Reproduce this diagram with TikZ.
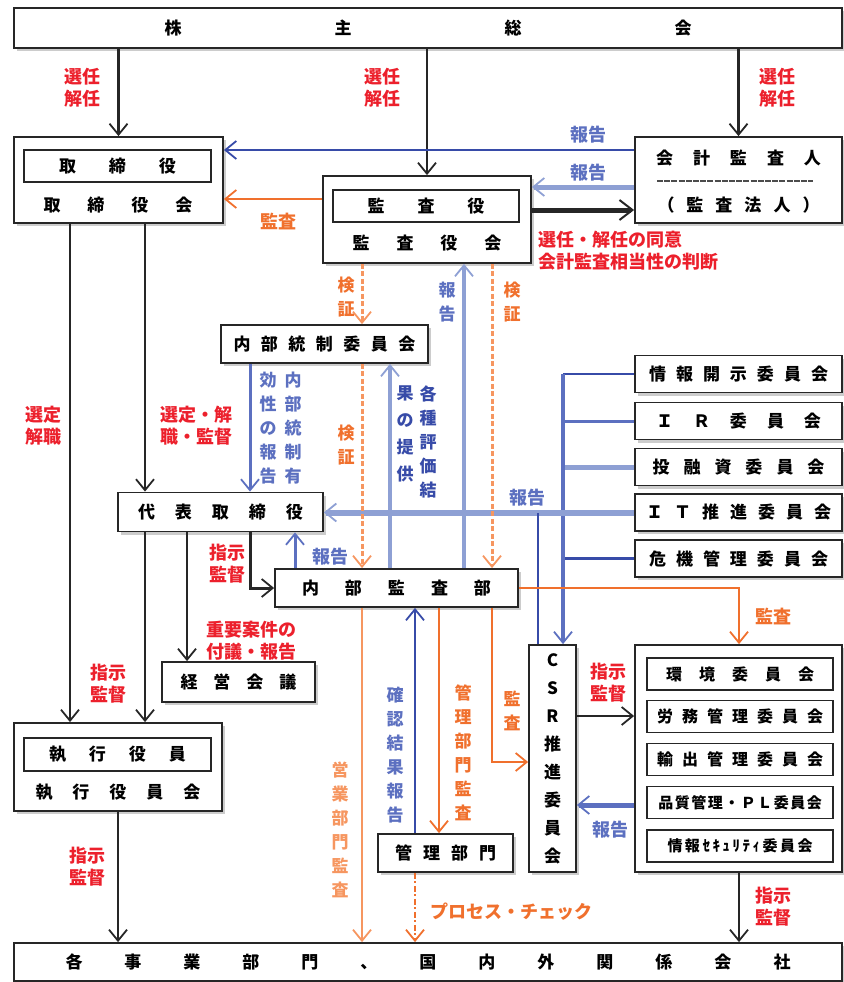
\documentclass[tikz,border=0pt]{standalone}
\usepackage{fontspec}
\setmainfont{Noto Sans CJK JP}
\usetikzlibrary{arrows.meta,shadows}
\definecolor{jred}{RGB}{236,32,44}
\definecolor{jorange}{RGB}{240,112,45}
\definecolor{jorangeL}{RGB}{246,150,96}
\definecolor{jblue}{RGB}{55,75,168}
\definecolor{jblueM}{RGB}{92,112,192}
\definecolor{jblueL}{RGB}{142,160,212}
\makeatletter
\newcommand\spaced[2]{\def\spc@gap{\hspace{#1pt}}\spc@go#2\@nil}
\def\spc@go#1#2\@nil{#1\ifx\relax#2\relax\else\spc@gap\spc@go#2\@nil\fi}
\makeatother
\begin{document}
\begin{tikzpicture}[x=1pt,y=-1pt,
  bx/.style={draw=black!85,line width=1.8pt,fill=white,inner sep=0pt,
    drop shadow={shadow xshift=3pt,shadow yshift=-3pt,fill=black!20,opacity=1},
    font=\bfseries\fontsize{17}{20}\selectfont},
  ibx/.style={draw=black!85,line width=1.7pt,fill=white,inner sep=0pt,
    font=\bfseries\fontsize{17}{20}\selectfont},
  txt/.style={inner sep=0pt,font=\bfseries\fontsize{17}{20}\selectfont},
  lab/.style={inner sep=0pt,align=center,font=\bfseries\fontsize{18}{22}\selectfont},
  vlab/.style={inner sep=0pt,align=center,font=\bfseries\fontsize{17}{24}\selectfont},
  ar/.style={-{Straight Barb[length=11pt,width=18pt,line width=1.8pt]}},
  blk/.style={draw=black!85,line width=2.2pt},
  blu/.style={draw=jblue,line width=2.8pt},
  bluM/.style={draw=jblueM,line width=3pt},
  bluL/.style={draw=jblueL,line width=3.4pt},
  org/.style={draw=jorange,line width=2.4pt},
  orgL/.style={draw=jorangeL,line width=2.8pt},
  orgD/.style={draw=jorangeL,line width=3pt,dash pattern=on 5pt off 2.5pt},
  ]
\useasboundingbox (0,0) rectangle (843,982);

% boxes
\node[bx,minimum width=828pt,minimum height=40pt] (kabu) at (428,28) {\spaced{153}{株主総会}};

\node[bx,minimum width=209pt,minimum height=86pt] (tb) at (118.5,180) {};
\node[ibx,minimum width=187pt,minimum height=32pt] (tbin) at (117.5,166) {\spaced{33}{取締役}};
\node[txt] (tbtxt) at (118,205) {\spaced{27}{取締役会}};

\node[bx,minimum width=208pt,minimum height=87pt] (ka) at (427,219.5) {};
\node[ibx,minimum width=186pt,minimum height=32pt] (kain) at (426,206) {\spaced{33}{監査役}};
\node[txt] (katxt) at (427,243) {\spaced{27}{監査役会}};

\node[bx,minimum width=207pt,minimum height=86pt] (kk) at (738.5,180) {};
\node[txt] (kktxt) at (738.5,158) {\spaced{20}{会計監査人}};
\node[txt] (kktxt2) at (738.5,205) {\spaced{12}{（監査法人）}};
\draw[black!70,line width=2.6pt,dash pattern=on 6pt off 1.2pt] (657,181) -- (813,181);

\node[bx,minimum width=207pt,minimum height=38pt] (nt) at (324.5,344) {\spaced{10.5}{内部統制委員会}};
\node[bx,minimum width=205pt,minimum height=39pt] (dh) at (220.5,512) {\spaced{20}{代表取締役}};
\node[bx,minimum width=243pt,minimum height=38pt] (nk) at (396.5,588) {\spaced{26}{内部監査部}};
\node[bx,minimum width=153pt,minimum height=40pt] (kg) at (238.5,682) {\spaced{16}{経営会議}};

\node[bx,minimum width=208pt,minimum height=88pt] (sy) at (118,767) {};
\node[ibx,minimum width=187pt,minimum height=33pt] (syin) at (117.5,754.5) {\spaced{23}{執行役員}};
\node[txt] (sytxt) at (118,792) {\spaced{20}{執行役員会}};

\node[bx,minimum width=135pt,minimum height=38pt] (km) at (445.5,853) {\spaced{11}{管理部門}};
\node[bx,minimum width=47pt,minimum height=227pt,align=center,
  font=\bfseries\fontsize{17}{28}\selectfont] (csr) at (552.5,758.5)
  {C\\S\\R\\推\\進\\委\\員\\会};

\node[bx,minimum width=207pt,minimum height=37pt] (c1) at (738.5,374) {\spaced{10}{情報開示委員会}};
\node[bx,minimum width=207pt,minimum height=37pt] (c2) at (738.5,421) {\spaced{20}{ＩＲ委員会}};
\node[bx,minimum width=207pt,minimum height=37pt] (c3) at (738.5,467) {\spaced{14}{投融資委員会}};
\node[bx,minimum width=207pt,minimum height=37pt] (c4) at (738.5,512.5) {\spaced{11}{ＩＴ推進委員会}};
\node[bx,minimum width=207pt,minimum height=37pt] (c5) at (738.5,558.5) {\spaced{10}{危機管理委員会}};

\node[bx,minimum width=207pt,minimum height=227pt] (grp) at (738.5,758.5) {};
\node[ibx,minimum width=186pt,minimum height=32pt,font=\bfseries\fontsize{16}{19}\selectfont] (g1) at (740,674) {\spaced{17}{環境委員会}};
\node[ibx,minimum width=186pt,minimum height=32pt,font=\bfseries\fontsize{16}{19}\selectfont] (g2) at (740,716.5) {\spaced{9}{労務管理委員会}};
\node[ibx,minimum width=186pt,minimum height=32pt,font=\bfseries\fontsize{16}{19}\selectfont] (g3) at (740,759.5) {\spaced{9}{輸出管理委員会}};
\node[ibx,minimum width=186pt,minimum height=32pt,font=\bfseries\fontsize{15}{19}\selectfont] (g4) at (740,802.5) {\spaced{1.5}{品質管理・ＰＬ委員会}};
\node[ibx,minimum width=186pt,minimum height=32pt,font=\bfseries\fontsize{15}{19}\selectfont] (g5) at (740,846) {\spaced{2.5}{情報ｾｷｭﾘﾃｨ委員会}};

\node[bx,minimum width=828pt,minimum height=38pt] (bot) at (428,962) {\spaced{42}{各事業部門、国内外関係会社}};

% lanes
\coordinate (v70) at (70,0);   \coordinate (v145) at (145,0);
\coordinate (v187) at (187,0); \coordinate (v250) at (250,0);
\coordinate (v295) at (295,0); \coordinate (v362) at (362,0);
\coordinate (v390) at (390,0); \coordinate (v415) at (415,0);
\coordinate (v439) at (439,0); \coordinate (v464) at (464,0);
\coordinate (v492) at (492,0); \coordinate (v538) at (538,0);
\coordinate (v563) at (563,0); \coordinate (v739) at (739,0);
\coordinate (h150) at (0,150); \coordinate (h187) at (0,187);
\coordinate (h199) at (0,199); \coordinate (h210) at (0,210);
\coordinate (h716) at (0,716); \coordinate (h762) at (0,762);
\coordinate (h805) at (0,805);

% black
\draw[blk,ar] (tb.north |- kabu.south) -- (tb.north);
\draw[blk,ar] (ka.north |- kabu.south) -- (ka.north);
\draw[blk,ar] (kk.north |- kabu.south) -- (kk.north);
\draw[blk,ar] (tb.south -| v70) -- (sy.north -| v70);
\draw[blk,ar] (tb.south -| v145) -- (dh.north -| v145);
\draw[blk,ar] (dh.south -| v145) -- (sy.north -| v145);
\draw[blk,ar] (dh.south -| v187) -- (kg.north -| v187);
\draw[blk,line width=3pt,ar] (dh.south -| v250) |- (nk.west);
\draw[blk,ar] (sy.south) -- (sy.south |- bot.north);
\draw[blk,line width=5pt,-{Straight Barb[length=13pt,width=20pt,line width=2pt]}] (ka.east |- h210) -- (kk.west |- h210);
\draw[blk,ar] (csr.east |- h716) -- (grp.west |- h716);
\draw[blk,ar] (grp.south -| v739) -- (bot.north -| v739);

% blue
\draw[blu,ar] (kk.west |- h150) -- (tb.east |- h150);
\draw[bluL,line width=5pt,ar] (kk.west |- h187) -- (ka.east |- h187);
\draw[bluM,ar] (nt.south -| v250) -- (dh.north -| v250);
\draw[bluL,ar] (nk.north -| v390) -- (nt.south -| v390);
\draw[bluL,ar] (nk.north -| v464) -- (ka.south -| v464);
\draw[bluM,ar] (nk.north -| v295) -- (dh.south -| v295);
\draw[blu] (c1.west) -- (c1.west -| v563);
\draw[bluM] (c2.west) -- (c2.west -| v563);
\draw[bluL,line width=5pt] (c3.west) -- (c3.west -| v563);
\draw[blu] (c5.west) -- (c5.west -| v563);
\draw[bluM,line width=3.4pt,ar] (c1.west -| v563) -- (csr.north -| v563);
\draw[bluL,line width=6pt,ar] (c4.west) -- (c4.west -| dh.east);
\draw[blu] (csr.north -| v538) -- (c4.west -| v538);
\draw[blu,ar] (km.north -| v415) -- (nk.south -| v415);
\draw[bluM,line width=5pt,ar] (grp.west |- h805) -- (csr.east |- h805);

% orange
\draw[org,ar] (ka.west |- h199) -- (tb.east |- h199);
\draw[orgD,ar] (ka.south -| v362) -- (nt.north -| v362);
\draw[orgD,ar] (nt.south -| v362) -- (nk.north -| v362);
\draw[orgD,ar] (ka.south -| v492) -- (nk.north -| v492);
\draw[orgL,ar] (nk.south -| v362) -- (bot.north -| v362);
\draw[org,ar] (nk.south -| v439) -- (km.north -| v439);
\draw[org,ar] (nk.south -| v492) |- (csr.west |- h762);
\draw[org,ar] (nk.east) -| (grp.north -| v739);
\draw[org,dash pattern=on 6pt off 2.5pt on 2pt off 2.5pt,ar] (km.south -| v415) -- (bot.north -| v415);

% labels
\node[lab,text=jred] (l1) at (82,88) {選任\\解任};
\node[lab,text=jred] (l2) at (382,88) {選任\\解任};
\node[lab,text=jred] (l3) at (777,88) {選任\\解任};
\node[lab,text=jblueM] (l4) at (588,135) {報告};
\node[lab,text=jblueM] (l5) at (588,173) {報告};
\node[lab,text=jorange] (l6) at (278,222) {監査};
\node[lab,text=jred,align=left,anchor=west] (l7) at (538,251) {選任・解任の同意\\会計監査相当性の判断};
\node[vlab,text=jorange] (l8) at (346,297) {検\\証};
\node[vlab,text=jblueM] (l9) at (447,302) {報\\告};
\node[vlab,text=jorange] (l10) at (512,302) {検\\証};
\node[lab,text=jred] (l11) at (43,426) {選定\\解職};
\node[lab,text=jred,align=left] (l12) at (196,426) {選定・解\\職・監督};
\node[vlab,text=jblueM,anchor=north] (l13) at (293,372) {内\\部\\統\\制\\有};
\node[vlab,text=jblueM,anchor=north] (l14) at (268,372) {効\\性\\の\\報\\告};
\node[vlab,text=jorange] (l15) at (346,445) {検\\証};
\node[vlab,text=jblue,anchor=north] (l16) at (428,386) {各\\種\\評\\価\\結};
\node[vlab,text=jblue,anchor=north,font=\bfseries\fontsize{17}{27}\selectfont] (l17) at (405,386) {果\\の\\提\\供};
\node[lab,text=jblueM] (l18) at (527,498) {報告};
\node[lab,text=jred] (l19) at (227,564) {指示\\監督};
\node[lab,text=jblueM] (l20) at (330,557) {報告};
\node[lab,text=jred,align=left] (l21) at (251,641) {重要案件の\\付議・報告};
\node[lab,text=jred] (l22) at (108,684) {指示\\監督};
\node[vlab,text=jorangeL] (l23) at (340,830) {営\\業\\部\\門\\監\\査};
\node[vlab,text=jblueM] (l24) at (395,755) {確\\認\\結\\果\\報\\告};
\node[vlab,text=jorange] (l25) at (463,753) {管\\理\\部\\門\\監\\査};
\node[vlab,text=jorange] (l26) at (512,711) {監\\査};
\node[lab,text=jorange] (l27) at (773,617) {監査};
\node[lab,text=jred] (l28) at (608,683) {指示\\監督};
\node[lab,text=jblueM] (l29) at (610,830) {報告};
\node[lab,text=jred] (l30) at (87,867) {指示\\監督};
\node[lab,text=jorange,anchor=west] (l31) at (430,912) {プロセス・チェック};
\node[lab,text=jred] (l32) at (773,907) {指示\\監督};
\end{tikzpicture}
\end{document}
